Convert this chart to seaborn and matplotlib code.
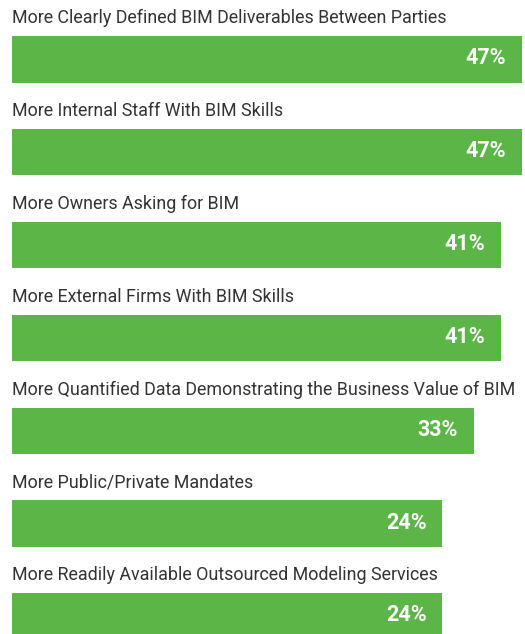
import pandas as pd
import numpy as np
import matplotlib.pyplot as plt
import seaborn as sns

# BIM drivers chart - horizontal bars, label above each bar

labels = [
    "More Clearly Defined BIM Deliverables Between Parties",
    "More Internal Staff With BIM Skills",
    "More Owners Asking for BIM",
    "More External Firms With BIM Skills",
    "More Quantified Data Demonstrating the Business Value of BIM",
    "More Public/Private Mandates",
    "More Readily Available Outsourced Modeling Services",
]
values = [47, 47, 41, 41, 33, 24, 24]

# the original chart does not start its bars at zero
BASE = 100
GREEN = "#5cb547"

sns.set_theme(style="white")
plt.rcParams['font.family'] = ['Roboto', 'DejaVu Sans']

df = pd.DataFrame({"label": labels, "value": values})
df["length"] = df["value"] + BASE

fig = plt.figure(figsize=(5.25, 6.34), dpi=100)
ax = fig.add_axes([12 / 525, 0, 1 - 12 / 525, 1])

sns.barplot(data=df, x="length", y="label", orient="h", color=GREEN,
            width=0.5, errorbar=None, left=-BASE, saturation=1,
            linewidth=0, ax=ax)

ax.set_xlim(-BASE, 47.8)
ax.set_ylim(6.19, -0.64)
ax.axis("off")

for i, (lab, v) in enumerate(zip(labels, values)):
    ax.annotate(lab, xy=(-BASE, i - 0.25), xytext=(0, 13),
                textcoords="offset pixels", ha="left", va="baseline",
                fontsize=12.9, color="#333333")
    ax.annotate(f"{v}%", xy=(v, i), xytext=(-16, 1),
                textcoords="offset pixels", ha="right", va="center",
                fontsize=15.5, fontweight="bold", color="white")

plt.savefig("out.png", dpi=100)
plt.close()
